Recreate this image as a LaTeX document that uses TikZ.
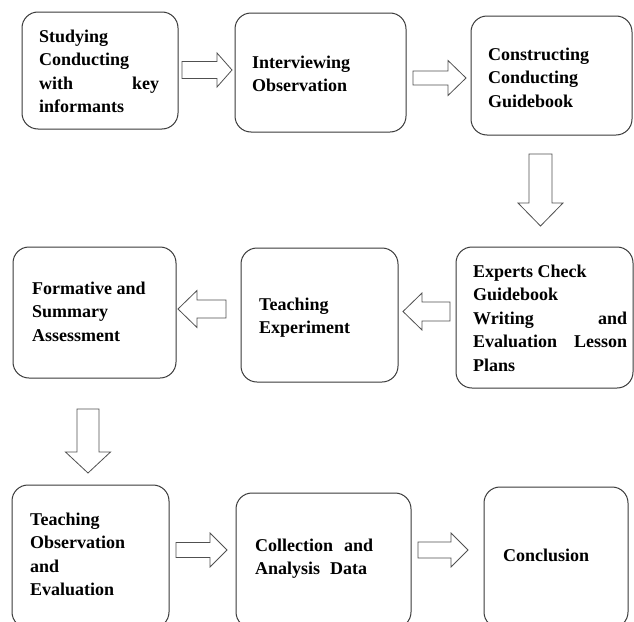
\documentclass[tikz,border=0pt]{standalone}
\usepackage{fontspec}
\setmainfont{Liberation Serif}
\usetikzlibrary{calc}
\definecolor{boxgray}{HTML}{3A3A3A}
\definecolor{arrgray}{HTML}{505050}
\tikzset{
  box/.style={draw=boxgray, line width=1pt, rounded corners=16pt, inner sep=0pt},
  barrow/.style={draw=arrgray, line width=0.8pt, fill=white, line join=miter},
  lbl/.style={anchor=base west, inner sep=0pt, font=\bfseries\fontsize{18}{23.5}\selectfont},
}
\newcommand{\tlines}[2]{\vtop{\hsize=#1\parindent=0pt\baselineskip=23.5pt #2\par}}
% block arrow: from, to, shaft half width, head half width, head length
\newcommand{\blockarr}[5]{%
  \coordinate (hb) at ($(#2)!#5!(#1)$);
  \draw[barrow] ($(#1)!#3!90:(#2)$) -- ($(hb)!#3!90:(#2)$) -- ($(hb)!#4!90:(#2)$) -- (#2)
    -- ($(hb)!#4!-90:(#2)$) -- ($(hb)!#3!-90:(#2)$) -- ($(#1)!#3!-90:(#2)$) -- cycle;}
\begin{document}
\begin{tikzpicture}[x=1pt,y=-1pt]
\clip (0,0) rectangle (634,621);
\fill[white] (0,0) rectangle (634,621);
% boxes
\node[box, minimum width=156pt, minimum height=117pt] (b1) at (100,70.5) {};
\node[box, minimum width=171pt, minimum height=119pt] (b2) at (320.5,72.5) {};
\node[box, minimum width=161pt, minimum height=119pt] (b3) at (551.5,75.5) {};
\node[box, minimum width=163pt, minimum height=131pt] (b4) at (94.5,312.5) {};
\node[box, minimum width=157pt, minimum height=134pt] (b5) at (319.5,315) {};
\node[box, minimum width=177pt, minimum height=141pt] (b6) at (544.5,317.5) {};
\node[box, minimum width=157pt, minimum height=143pt] (b7) at (90.5,556.5) {};
\node[box, minimum width=175pt, minimum height=135pt] (b8) at (323.5,560.5) {};
\node[box, minimum width=144pt, minimum height=141pt] (b9) at (556,557.5) {};
% texts
\node[lbl] (t1) at (39,42) {\tlines{120pt}{Studying\\Conducting\\with\hfill key\\informants}};
\node[lbl] (t2) at (252,68) {\tlines{200pt}{Interviewing\\Observation}};
\node[lbl] (t3) at (488,60) {\tlines{200pt}{Constructing\\Conducting\\Guidebook}};
\node[lbl] (t4) at (32,294) {\tlines{200pt}{Formative and\\Summary\\Assessment}};
\node[lbl] (t5) at (259,310) {\tlines{200pt}{Teaching\\Experiment}};
\node[lbl] (t6) at (473,277) {\tlines{154pt}{Experts Check\\Guidebook\\Writing\hfill and\\Evaluation\hfill Lesson\\Plans}};
\node[lbl] (t7) at (30,525) {\tlines{200pt}{Teaching\\Observation\\and\\Evaluation}};
\node[lbl] (t8) at (255,551) {\tlines{200pt}{Collection\hspace{6.5pt} and\\Analysis\hspace{5.5pt} Data}};
\node[lbl] (t9) at (503,561) {\tlines{200pt}{Conclusion}};
% arrow end points
\coordinate (a1s) at (182,70);  \coordinate (a1e) at (232,70);
\coordinate (a2s) at (413,78);  \coordinate (a2e) at (466,78);
\coordinate (d1s) at (540.5,154); \coordinate (d1e) at (540.5,226);
\coordinate (l1s) at (450,311.5); \coordinate (l1e) at (403,311.5);
\coordinate (l2s) at (226,309); \coordinate (l2e) at (178,309);
\coordinate (d2s) at (88,409);  \coordinate (d2e) at (88,473);
\coordinate (a3s) at (176,550); \coordinate (a3e) at (227,550);
\coordinate (a4s) at (418,550); \coordinate (a4e) at (468,550);
\blockarr{a1s}{a1e}{8.5pt}{17pt}{15pt}
\blockarr{a2s}{a2e}{7pt}{17.5pt}{18pt}
\blockarr{d1s}{d1e}{11.5pt}{22.5pt}{23pt}
\blockarr{l1s}{l1e}{9.5pt}{18.5pt}{19pt}
\blockarr{l2s}{l2e}{9pt}{18.5pt}{19pt}
\blockarr{d2s}{d2e}{11pt}{22.5pt}{21pt}
\blockarr{a3s}{a3e}{7.5pt}{17pt}{17pt}
\blockarr{a4s}{a4e}{8pt}{17pt}{17pt}
\end{tikzpicture}
\end{document}
